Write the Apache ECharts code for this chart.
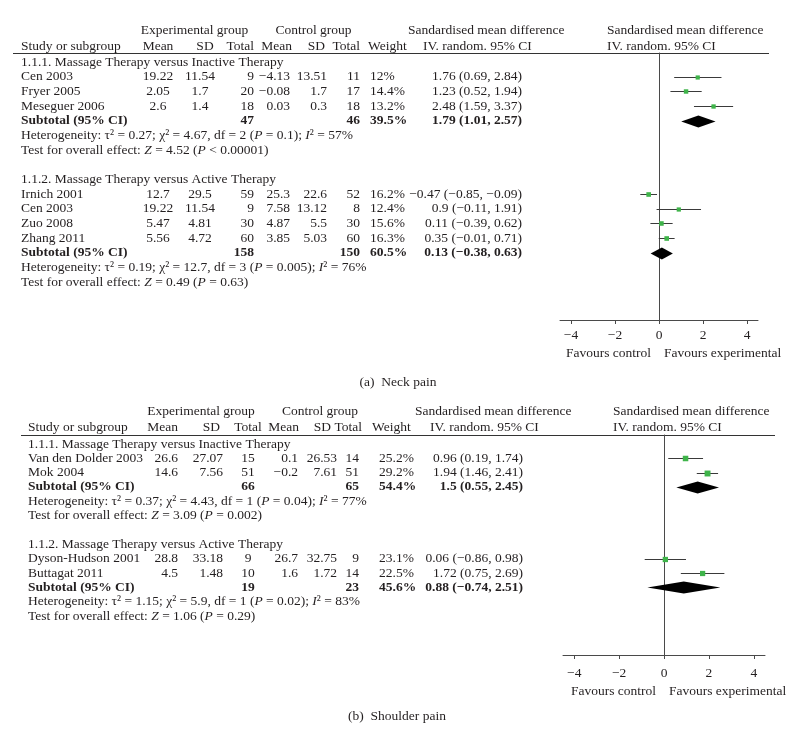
<!DOCTYPE html>
<html><head><meta charset="utf-8">
<script src="https://cdn.jsdelivr.net/npm/echarts@6/dist/echarts.min.js"></script>
<style>html,body{margin:0;padding:0;background:#fff}#c{width:795px;height:737px}</style>
</head><body><div id="c"></div>
<script>
// ---------- DATA: (a) Neck pain ----------
const neckNames   = ['Cen 2003','Fryer 2005','Meseguer 2006','Irnich 2001','Cen 2003','Zuo 2008','Zhang 2011'];
const neckGroup   = [0,0,0,1,1,1,1];
const neckExpMean = [19.22,2.05,2.6,12.7,19.22,5.47,5.56];
const neckExpSD   = [11.54,1.7,1.4,29.5,11.54,4.81,4.72];
const neckExpN    = [9,20,18,59,9,30,60];
const neckCtlMean = [-4.13,-0.08,0.03,25.3,7.58,4.87,3.85];
const neckCtlSD   = [13.51,1.7,0.3,22.6,13.12,5.5,5.03];
const neckCtlN    = [11,17,18,52,8,30,60];
const neckWeight  = [12,14.4,13.2,16.2,12.4,15.6,16.3];
const neckSMD     = [1.76,1.23,2.48,-0.47,0.9,0.11,0.35];
const neckLo      = [0.69,0.52,1.59,-0.85,-0.11,-0.39,-0.01];
const neckHi      = [2.84,1.94,3.37,-0.09,1.91,0.62,0.71];
const neckGroups  = ['1.1.1. Massage Therapy versus Inactive Therapy','1.1.2. Massage Therapy versus Active Therapy'];
const neckSubExpN = [47,158];
const neckSubCtlN = [46,150];
const neckSubW    = [39.5,60.5];
const neckSubSMD  = [1.79,0.13];
const neckSubLo   = [1.01,-0.38];
const neckSubHi   = [2.57,0.63];
const neckTau2    = [0.27,0.19];
const neckChi2    = [4.67,12.7];
const neckDf      = [2,3];
const neckHetP    = ['= 0.1','= 0.005'];
const neckI2      = [57,76];
const neckZ       = [4.52,0.49];
const neckZP      = ['< 0.00001','= 0.63'];

// ---------- DATA: (b) Shoulder pain ----------
const shNames   = ['Van den Dolder 2003','Mok 2004','Dyson-Hudson 2001','Buttagat 2011'];
const shGroup   = [0,0,1,1];
const shExpMean = [26.6,14.6,28.8,4.5];
const shExpSD   = [27.07,7.56,33.18,1.48];
const shExpN    = [15,51,9,10];
const shCtlMean = [0.1,-0.2,26.7,1.6];
const shCtlSD   = [26.53,7.61,32.75,1.72];
const shCtlN    = [14,51,9,14];
const shWeight  = [25.2,29.2,23.1,22.5];
const shSMD     = [0.96,1.94,0.06,1.72];
const shLo      = [0.19,1.46,-0.86,0.75];
const shHi      = [1.74,2.41,0.98,2.69];
const shGroups  = ['1.1.1. Massage Therapy versus Inactive Therapy','1.1.2. Massage Therapy versus Active Therapy'];
const shSubExpN = [66,19];
const shSubCtlN = [65,23];
const shSubW    = [54.4,45.6];
const shSubSMD  = [1.5,0.88];
const shSubLo   = [0.55,-0.74];
const shSubHi   = [2.45,2.51];
const shTau2    = [0.37,1.15];
const shChi2    = [4.43,5.9];
const shDf      = [1,1];
const shHetP    = ['= 0.04','= 0.02'];
const shI2      = [77,83];
const shZ       = [3.09,1.06];
const shZP      = ['= 0.002','= 0.29'];

const axisTicks = [-4,-2,0,2,4];
const captions  = ['(a)  Neck pain','(b)  Shoulder pain'];

// ---------- LAYOUT / STYLE ----------
const FONT = '"Liberation Serif","Times New Roman",serif';
const FS = 13.5;
const INK = '#231f20';
const GREEN = '#3fb44a';

const panels = [
 { names:neckNames, group:neckGroup, eMean:neckExpMean, eSD:neckExpSD, eN:neckExpN, cMean:neckCtlMean, cSD:neckCtlSD, cN:neckCtlN,
   w:neckWeight, smd:neckSMD, lo:neckLo, hi:neckHi, groups:neckGroups, sEN:neckSubExpN, sCN:neckSubCtlN, sW:neckSubW,
   sSMD:neckSubSMD, sLo:neckSubLo, sHi:neckSubHi, tau2:neckTau2, chi2:neckChi2, df:neckDf, hetP:neckHetP, i2:neckI2, z:neckZ, zp:neckZP,
   L:{ left:21, rule:[13,769,53], hy1:30, hy2:46, expHdr:194.5, ctlHdr:313.5,
       cols:{eMean:[158,'center',158,'center'], eSD:[200,'center',205,'center'], eN:[254,'right',254,'right'],
             cMean:[290,'right',292,'right'], cSD:[327,'right',325,'right'], cN:[360,'right',360,'right'],
             w:[370,'left',368,'left'], ci:[522,'right']},
       smdH1:408, smdH2:423, forestH:607,
       grid:{left:560,width:198,top:53,bottom:320}, row0:62, step:14.667, labelMargin:8, favDy:33,
       cap:[398,382] } },
 { names:shNames, group:shGroup, eMean:shExpMean, eSD:shExpSD, eN:shExpN, cMean:shCtlMean, cSD:shCtlSD, cN:shCtlN,
   w:shWeight, smd:shSMD, lo:shLo, hi:shHi, groups:shGroups, sEN:shSubExpN, sCN:shSubCtlN, sW:shSubW,
   sSMD:shSubSMD, sLo:shSubLo, sHi:shSubHi, tau2:shTau2, chi2:shChi2, df:shDf, hetP:shHetP, i2:shI2, z:shZ, zp:shZP,
   L:{ left:28, rule:[21,775,435], hy1:411, hy2:427, expHdr:201, ctlHdr:320,
       cols:{eMean:[178,'right',178,'right'], eSD:[223,'right',220,'right'], eN:[248,'center',248,'center'],
             cMean:[298,'right',299,'right'], cSD:[337,'right',331,'right'], cN:[359,'right',362,'right'],
             w:[379,'left',372,'left'], ci:[523,'right']},
       smdH1:415, smdH2:430, forestH:613,
       grid:{left:563,width:202,top:435,bottom:655}, row0:444, step:14.333, labelMargin:11, favDy:36,
       cap:[397,716] } }
];

function fmt(v){ return String(v).replace(/-/g,'\u2212'); }

// build row lists
panels.forEach(P => {
  const rows = [];
  P.groups.forEach((g, gi) => {
    rows.push({kind:'title', g:gi});
    P.names.forEach((n, i) => { if (P.group[i] === gi) rows.push({kind:'study', i}); });
    rows.push({kind:'sub', g:gi});
    rows.push({kind:'het', g:gi});
    rows.push({kind:'test', g:gi});
    if (gi < P.groups.length - 1) rows.push({kind:'blank'});
  });
  P.rows = rows;
});

const chart = echarts.init(document.getElementById('c'), null, {renderer:'canvas'});

const grids = [], xAxes = [], yAxes = [], series = [];
panels.forEach((P, pi) => {
  const L = P.L;
  const n = P.rows.length - 1;
  const lastY = L.row0 + n * L.step;
  grids.push({left:L.grid.left, width:L.grid.width, top:L.grid.top, height:L.grid.bottom - L.grid.top});
  xAxes.push({type:'value', gridIndex:pi, min:-4.5, max:4.5,
    axisLine:{show:true, onZero:false, lineStyle:{color:'#4a4a4a', width:1}},
    splitLine:{show:false},
    axisTick:{show:true, customValues:axisTicks, length:4, lineStyle:{color:'#4a4a4a'}},
    axisLabel:{show:true, customValues:axisTicks, formatter:fmt, fontFamily:FONT, fontSize:13.5, color:INK, margin:L.labelMargin}});
  yAxes.push({type:'value', gridIndex:pi, inverse:true,
    min:-(L.row0 - L.grid.top)/L.step, max:n + (L.grid.bottom - lastY)/L.step,
    axisLine:{show:true, onZero:true, lineStyle:{color:'#4a4a4a', width:1}},
    axisTick:{show:false}, axisLabel:{show:false}, splitLine:{show:false}});
  const data = [];
  P.rows.forEach((r, ri) => {
    if (r.kind === 'study') data.push([P.smd[r.i], P.lo[r.i], P.hi[r.i], ri, P.w[r.i], 0]);
    if (r.kind === 'sub') data.push([P.sSMD[r.g], P.sLo[r.g], P.sHi[r.g], ri, P.sW[r.g], 1]);
  });
  series.push({type:'custom', xAxisIndex:pi, yAxisIndex:pi, silent:true, data,
    renderItem(params, api){
      const est=api.value(0), lo=api.value(1), hi=api.value(2), r=api.value(3), w=api.value(4), k=api.value(5);
      const c = api.coord([est, r]), a = api.coord([lo, r]), b = api.coord([hi, r]);
      const y = Math.round(c[1]) + 0.5;
      if (k === 0) {
        const s = 3 + w * 0.1;
        return {type:'group', children:[
          {type:'line', shape:{x1:a[0], y1:y, x2:b[0], y2:y}, style:{stroke:'#3a3a3a', lineWidth:1}},
          {type:'rect', shape:{x:c[0]-s/2, y:y-s/2, width:s, height:s}, style:{fill:GREEN}}
        ]};
      }
      return {type:'polygon', shape:{points:[[a[0],y],[c[0],y-6],[b[0],y],[c[0],y+6]]}, style:{fill:'#000'}};
    }});
});

chart.setOption({animation:false, grid:grids, xAxis:xAxes, yAxis:yAxes, series});

// ---------- table text ----------
const graphics = [];
function txt(x, y, text, align, extra){
  graphics.push({type:'text', x, y, silent:true,
    style:Object.assign({text, fill:INK, fontFamily:FONT, fontSize:FS, align, verticalAlign:'middle',
      textAlign:align, textVerticalAlign:'middle'}, extra || {})});
}
const italicRich = {i:{fontStyle:'italic', fontFamily:FONT, fontSize:FS, fill:INK}};

panels.forEach((P, pi) => {
  const L = P.L, C = L.cols;
  const yOf = r => chart.convertToPixel({gridIndex:pi}, [0, r])[1];
  const x0 = chart.convertToPixel({gridIndex:pi}, [0, 0])[0];
  // rule
  graphics.push({type:'line', silent:true, shape:{x1:L.rule[0], y1:L.rule[2]+0.5, x2:L.rule[1], y2:L.rule[2]+0.5}, style:{stroke:'#333', lineWidth:1}});
  // headers
  txt(L.expHdr, L.hy1, 'Experimental group', 'center');
  txt(L.ctlHdr, L.hy1, 'Control group', 'center');
  txt(L.smdH1, L.hy1, 'Sandardised mean difference', 'left');
  txt(L.forestH, L.hy1, 'Sandardised mean difference', 'left');
  txt(L.left, L.hy2, 'Study or subgroup', 'left');
  const hdr = {eMean:'Mean', eSD:'SD', eN:'Total', cMean:'Mean', cSD:'SD', cN:'Total', w:'Weight'};
  Object.keys(hdr).forEach(k => txt(C[k][2], L.hy2, hdr[k], C[k][3]));
  txt(L.smdH2, L.hy2, 'IV. random. 95% CI', 'left');
  txt(L.forestH, L.hy2, 'IV. random. 95% CI', 'left');
  // rows
  P.rows.forEach((r, ri) => {
    const y = yOf(ri);
    if (r.kind === 'title') txt(L.left, y, P.groups[r.g], 'left');
    if (r.kind === 'study') {
      const i = r.i;
      txt(L.left, y, P.names[i], 'left');
      txt(C.eMean[0], y, fmt(P.eMean[i]), C.eMean[1]);
      txt(C.eSD[0], y, fmt(P.eSD[i]), C.eSD[1]);
      txt(C.eN[0], y, fmt(P.eN[i]), C.eN[1]);
      txt(C.cMean[0], y, fmt(P.cMean[i]), C.cMean[1]);
      txt(C.cSD[0], y, fmt(P.cSD[i]), C.cSD[1]);
      txt(C.cN[0], y, fmt(P.cN[i]), C.cN[1]);
      txt(C.w[0], y, P.w[i] + '%', C.w[1]);
      txt(C.ci[0], y, fmt(P.smd[i]) + ' (' + fmt(P.lo[i]) + ', ' + fmt(P.hi[i]) + ')', C.ci[1]);
    }
    if (r.kind === 'sub') {
      const g = r.g, B = {fontWeight:'bold'};
      txt(L.left, y, 'Subtotal (95% CI)', 'left', B);
      txt(C.eN[0], y, fmt(P.sEN[g]), C.eN[1], B);
      txt(C.cN[0], y, fmt(P.sCN[g]), C.cN[1], B);
      txt(C.w[0], y, P.sW[g] + '%', C.w[1], B);
      txt(C.ci[0], y, fmt(P.sSMD[g]) + ' (' + fmt(P.sLo[g]) + ', ' + fmt(P.sHi[g]) + ')', C.ci[1], B);
    }
    if (r.kind === 'het') {
      const g = r.g;
      txt(L.left, y, 'Heterogeneity: \u03c4\u00b2 = ' + P.tau2[g] + '; \u03c7\u00b2 = ' + P.chi2[g] + ', df = ' + P.df[g] +
        ' ({i|P} ' + P.hetP[g] + '); {i|I}\u00b2 = ' + P.i2[g] + '%', 'left', {rich:italicRich});
    }
    if (r.kind === 'test') {
      const g = r.g;
      txt(L.left, y, 'Test for overall effect: {i|Z} = ' + P.z[g] + ' ({i|P} ' + P.zp[g] + ')', 'left', {rich:italicRich});
    }
  });
  // favours labels
  const fy = L.grid.bottom + L.favDy;
  txt(x0 - 8, fy, 'Favours control', 'right');
  txt(x0 + 5, fy, 'Favours experimental', 'left');
  // caption
  txt(L.cap[0], L.cap[1], captions[pi], 'center');
});

chart.setOption({graphic:graphics});
</script>
</body></html>
